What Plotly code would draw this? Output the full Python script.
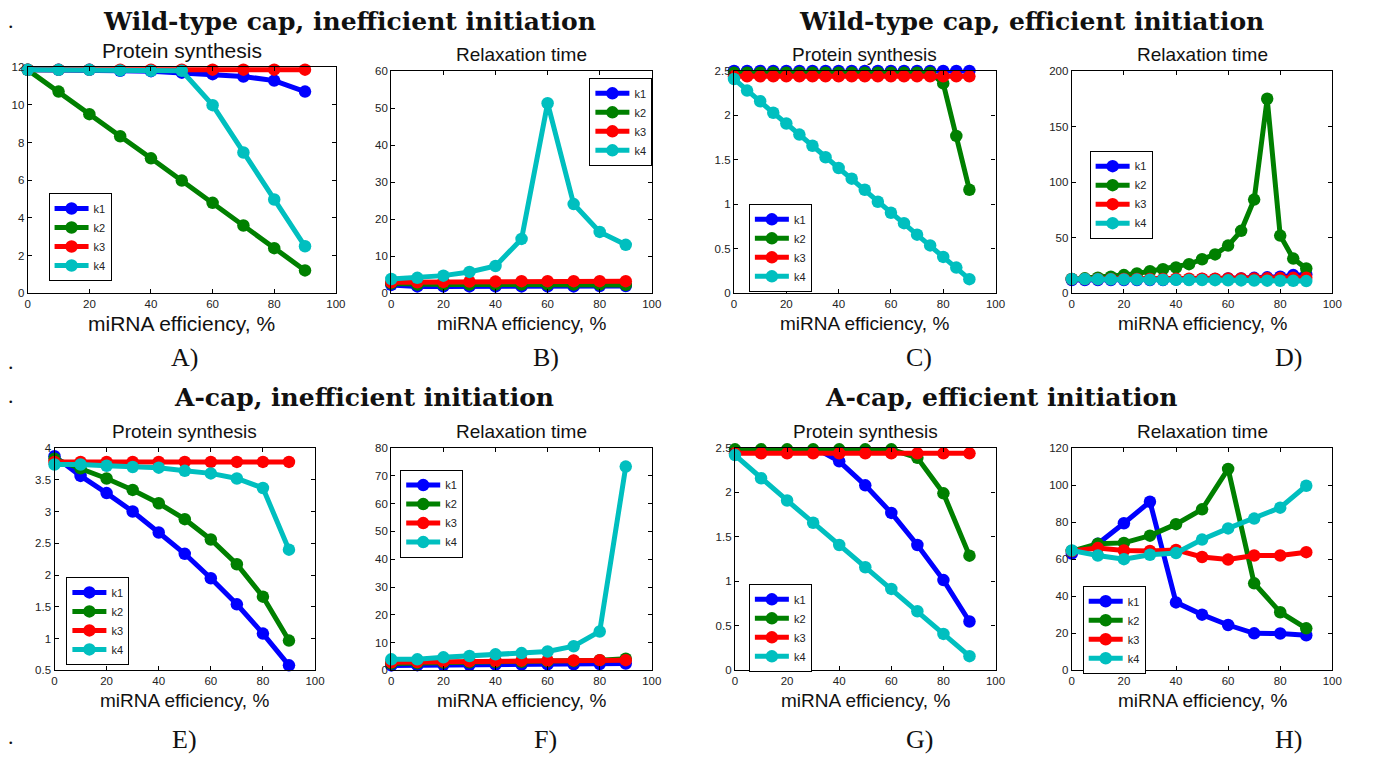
import plotly.graph_objects as go

W, H = 1375, 766

# ---------------- data ----------------
x10 = [0, 10, 20, 30, 40, 50, 60, 70, 80, 90]
x19 = [0, 5, 10, 15, 20, 25, 30, 35, 40, 45, 50, 55, 60, 65, 70, 75, 80, 85, 90]
series_names = ["k1", "k2", "k3", "k4"]

# A) Wild-type cap, inefficient initiation - protein synthesis
A_k1 = [11.85, 11.85, 11.85, 11.8, 11.78, 11.7, 11.62, 11.5, 11.28, 10.7]
A_k2 = [11.85, 10.7, 9.5, 8.33, 7.16, 5.98, 4.8, 3.6, 2.4, 1.22]
A_k3 = [11.86, 11.86, 11.86, 11.86, 11.86, 11.86, 11.86, 11.86, 11.86, 11.86]
A_k4 = [11.85, 11.85, 11.85, 11.82, 11.8, 11.8, 9.98, 7.47, 4.98, 2.5]

# B) Wild-type cap, inefficient initiation - relaxation time
B_k1 = [2.3, 1.9, 1.9, 1.9, 1.9, 1.9, 1.9, 1.9, 2.0, 2.0]
B_k2 = [2.7, 2.4, 2.4, 2.4, 2.4, 2.4, 2.4, 2.4, 2.4, 2.3]
B_k3 = [3.0, 3.0, 3.1, 3.2, 3.2, 3.3, 3.3, 3.3, 3.3, 3.3]
B_k4 = [3.9, 4.2, 4.8, 5.8, 7.4, 14.7, 51.3, 24.1, 16.6, 13.1]

# C) Wild-type cap, efficient initiation - protein synthesis
C_k1 = [2.5] * 19
C_k2 = [2.48, 2.48, 2.48, 2.48, 2.48, 2.48, 2.48, 2.48, 2.48, 2.48,
        2.48, 2.48, 2.48, 2.48, 2.48, 2.48, 2.36, 1.77, 1.165]
C_k3 = [2.44] * 19
C_k4 = [2.41, 2.28, 2.16, 2.03, 1.91, 1.785, 1.66, 1.53, 1.41, 1.29,
        1.165, 1.03, 0.907, 0.79, 0.66, 0.54, 0.41, 0.29, 0.16]

# D) Wild-type cap, efficient initiation - relaxation time
D_k1 = [12.0, 12.0, 12.0, 12.0, 12.0, 12.0, 12.0, 12.0, 12.5, 12.5,
        13.0, 13.0, 13.5, 13.5, 14.0, 14.5, 15.0, 16.5, 17.0]
D_k2 = [13.0, 13.6, 14.2, 15.0, 16.5, 18.0, 20.0, 21.8, 23.3, 26.3,
        30.7, 35.1, 43.0, 56.3, 84.4, 175.0, 52.0, 31.3, 22.4]
D_k3 = [13.0, 13.0, 13.0, 13.0, 13.0, 13.0, 13.0, 13.0, 13.2, 13.2,
        13.3, 13.3, 13.4, 13.4, 13.5, 13.6, 13.8, 14.0, 14.2]
D_k4 = [13.0, 13.0, 12.8, 12.7, 12.6, 12.5, 12.4, 12.3, 12.2, 12.1,
        12.0, 11.9, 11.8, 11.7, 11.6, 11.5, 11.4, 11.3, 11.1]

# E) A-cap, inefficient initiation - protein synthesis
E_k1 = [3.87, 3.56, 3.29, 3.0, 2.67, 2.335, 1.95, 1.54, 1.08, 0.58]
E_k2 = [3.83, 3.68, 3.52, 3.34, 3.13, 2.88, 2.56, 2.17, 1.66, 0.97]
E_k3 = [3.78, 3.78, 3.78, 3.78, 3.78, 3.78, 3.78, 3.78, 3.78, 3.78]
E_k4 = [3.74, 3.74, 3.72, 3.70, 3.69, 3.64, 3.60, 3.52, 3.37, 2.40]

# F) A-cap, inefficient initiation - relaxation time
F_k1 = [1.8, 1.9, 2.0, 2.0, 2.1, 2.1, 2.2, 2.2, 2.3, 2.5]
F_k2 = [2.5, 2.6, 2.8, 2.9, 3.0, 3.1, 3.3, 3.4, 3.7, 4.2]
F_k3 = [2.9, 3.0, 3.2, 3.3, 3.4, 3.5, 3.5, 3.6, 3.7, 3.7]
F_k4 = [4.0, 4.0, 4.7, 5.2, 5.8, 6.25, 6.8, 8.7, 14.0, 73.3]

# G) A-cap, efficient initiation - protein synthesis
G_k1 = [2.51, 2.51, 2.51, 2.51, 2.35, 2.08, 1.77, 1.41, 1.015, 0.55]
G_k2 = [2.485, 2.485, 2.485, 2.485, 2.485, 2.485, 2.485, 2.39, 1.99, 1.29]
G_k3 = [2.44, 2.44, 2.44, 2.44, 2.44, 2.44, 2.44, 2.44, 2.44, 2.44]
G_k4 = [2.42, 2.16, 1.91, 1.66, 1.41, 1.16, 0.916, 0.665, 0.41, 0.16]

# H) A-cap, efficient initiation - relaxation time
H_k1 = [63.0, 68.3, 79.4, 91.0, 36.7, 30.1, 24.5, 20.0, 19.9, 19.0]
H_k2 = [64.4, 68.3, 68.8, 72.7, 78.9, 86.9, 108.7, 47.0, 31.4, 22.7]
H_k3 = [64.4, 66.0, 64.7, 64.4, 65.0, 61.2, 59.8, 62.0, 62.0, 63.8]
H_k4 = [64.7, 62.0, 60.0, 62.4, 63.3, 70.6, 76.6, 81.9, 87.8, 99.6]

group_titles = ["Wild-type cap, inefficient initiation", "Wild-type cap, efficient initiation",
                "A-cap, inefficient initiation", "A-cap, efficient initiation"]
panel_letters = ["A)", "B)", "C)", "D)", "E)", "F)", "G)", "H)"]
subplot_titles = ["Protein synthesis", "Relaxation time"] * 4
x_title = "miRNA efficiency, %"

# ---------------- styling / layout ----------------
colors = ["#0000ff", "#008000", "#ff0000", "#00bfbf"]
SANS = "Liberation Sans, Arial, sans-serif"

# panel boxes in pixels: left, right, top, bottom
boxes = [
    (25, 336, 62, 292), (392, 655, 66, 292), (738, 1002, 66, 292), (1079, 1342, 66, 292),
    (52, 315, 449, 675), (392, 655, 449, 675), (739, 1002, 449, 675), (1079, 1342, 449, 675),
]
yranges = [(0, 12, 2), (0, 60, 10), (0, 2.5, 0.5), (0, 200, 50),
           (0.5, 4, 0.5), (0, 80, 10), (0, 2.5, 0.5), (0, 120, 20)]
legend_pos = [(46, 190), (592, 73), (753, 201), (1097, 147),
              (64, 580), (401, 471), (753, 587), (1090, 589)]

panels = [
    (x10, [A_k1, A_k2, A_k3, A_k4]),
    (x10, [B_k1, B_k2, B_k3, B_k4]),
    (x19, [C_k1, C_k2, C_k3, C_k4]),
    (x19, [D_k1, D_k2, D_k3, D_k4]),
    (x10, [E_k1, E_k2, E_k3, E_k4]),
    (x10, [F_k1, F_k2, F_k3, F_k4]),
    (x10, [G_k1, G_k2, G_k3, G_k4]),
    (x10, [H_k1, H_k2, H_k3, H_k4]),
]


def px(x):
    return x / W


def py(y):
    return 1 - y / H


fig = go.Figure()
layout = dict(
    width=W, height=H,
    margin=dict(l=0, r=0, t=0, b=0),
    paper_bgcolor="white", plot_bgcolor="white",
    showlegend=True,
    font=dict(family=SANS, color="#222"),
)
annotations = []

for i, ((xs, ys), box, yr, lp) in enumerate(zip(panels, boxes, yranges, legend_pos)):
    n = i + 1
    xa = "xaxis" if n == 1 else f"xaxis{n}"
    ya = "yaxis" if n == 1 else f"yaxis{n}"
    xref = "x" if n == 1 else f"x{n}"
    yref = "y" if n == 1 else f"y{n}"
    lg = "legend" if n == 1 else f"legend{n}"
    l, r, t, b = box
    axis_common = dict(
        showline=True, linecolor="black", linewidth=1.3, mirror="ticks",
        ticks="inside", ticklen=4, tickcolor="black", tickwidth=1,
        showgrid=False, zeroline=False,
        tickfont=dict(family=SANS, size=11.5, color="#222"),
    )
    layout[xa] = dict(domain=[px(l), px(r)], range=[0, 100], tick0=0, dtick=20,
                      anchor=yref, **axis_common)
    layout[ya] = dict(domain=[py(b), py(t)], range=[yr[0], yr[1]], tick0=yr[0], dtick=yr[2],
                      anchor=xref, **axis_common)
    layout[lg] = dict(
        x=px(lp[0]), y=py(lp[1]), xanchor="left", yanchor="top",
        bgcolor="white", bordercolor="black", borderwidth=1,
        font=dict(family=SANS, size=11, color="#222"),
        itemwidth=34, tracegroupgap=0,
    )
    for name, yv, c in zip(series_names, ys, colors):
        fig.add_trace(go.Scatter(
            x=xs, y=yv, name=name, mode="lines+markers",
            line=dict(color=c, width=5),
            marker=dict(color=c, size=12.5, symbol="circle"),
            xaxis=xref, yaxis=yref, legend=lg, cliponaxis=False,
        ))
    cx = (l + r) / 2
    big = 21 if i == 0 else 19
    title_y = t - 17
    annotations.append(dict(text=subplot_titles[i], x=px(cx), y=py(title_y),
                            xref="paper", yref="paper", showarrow=False,
                            xanchor="center", yanchor="middle",
                            font=dict(family=SANS, size=big, color="#111")))
    annotations.append(dict(text=x_title, x=px(cx), y=py(b + 31),
                            xref="paper", yref="paper", showarrow=False,
                            xanchor="center", yanchor="middle",
                            font=dict(family=SANS, size=big, color="#111")))

# group titles
gt_pos = [(350, 16), (1038, 16), (364, 398), (1008, 398)]
for txt, (gx, gy) in zip(group_titles, gt_pos):
    annotations.append(dict(text="<b>" + txt + "</b>", x=px(gx), y=py(gy),
                            xref="paper", yref="paper", showarrow=False,
                            xanchor="center", yanchor="middle",
                            font=dict(family="DejaVu Serif, serif", size=25, color="#111")))

# panel letters
letter_pos = [(183, 357), (548, 357), (925, 357), (1298, 357),
              (183, 745), (548, 745), (925, 745), (1298, 745)]
for txt, (lx, ly) in zip(panel_letters, letter_pos):
    annotations.append(dict(text=txt, x=px(lx), y=py(ly),
                            xref="paper", yref="paper", showarrow=False,
                            xanchor="center", yanchor="middle",
                            font=dict(family="Liberation Serif, serif", size=26, color="#111")))

# dots on the left margin
for dy in [15, 361, 396, 742]:
    annotations.append(dict(text=".", x=px(8), y=py(dy),
                            xref="paper", yref="paper", showarrow=False,
                            xanchor="center", yanchor="middle",
                            font=dict(family="Liberation Serif, serif", size=22, color="#111")))

layout["annotations"] = annotations
fig.update_layout(**layout)
fig.write_html("out.html", config={"displayModeBar": False},
               post_script="document.body.style.margin='0px';")
